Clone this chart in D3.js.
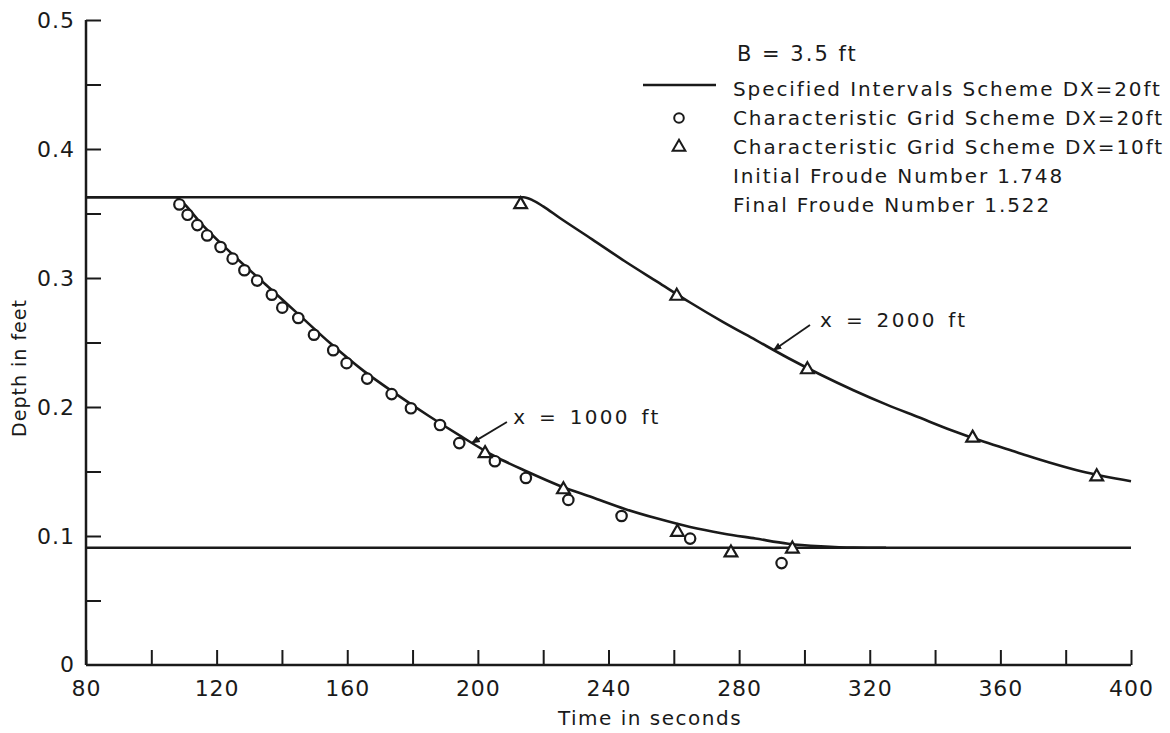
<!DOCTYPE html>
<html>
<head>
<meta charset="utf-8">
<script src="https://cdn.jsdelivr.net/npm/d3@7"></script>
<style>
  body { margin: 0; background: #fff; }
  text { font-family: "DejaVu Sans", sans-serif; fill: #1a1a1a; }
</style>
</head>
<body>
<svg id="chart" width="1170" height="733"></svg>
<script>
// tick values and labels
var xTickValues = [80, 100, 120, 140, 160, 180, 200, 220, 240, 260, 280, 300, 320, 340, 360, 380, 400];
var xLabelValues = [80, 120, 160, 200, 240, 280, 320, 360, 400];
var yTickValues = [0.05, 0.1, 0.15, 0.2, 0.25, 0.3, 0.35, 0.4, 0.45, 0.5];
var yLabelValues = [0, 0.1, 0.2, 0.3, 0.4, 0.5];

// specified intervals scheme DX=20ft, x = 1000 ft  [time s, depth ft]
var curve1000 = [
  [80, 0.3626], [107.5, 0.3626], [110, 0.3575], [115, 0.343], [125, 0.318], [135, 0.295],
  [145, 0.272], [155, 0.249], [165, 0.228], [175, 0.210], [185, 0.193], [195, 0.177],
  [205, 0.162], [215, 0.150], [225, 0.139], [235, 0.130], [245, 0.121], [255, 0.1135],
  [265, 0.107], [275, 0.102], [285, 0.098], [295, 0.094], [305, 0.092], [315, 0.091], [325, 0.0909]
];
// x = 2000 ft
var curve2000 = [
  [80, 0.3626], [214, 0.3626], [217, 0.360], [220, 0.3555], [225, 0.3467], [235, 0.330],
  [245, 0.313], [255, 0.297], [265, 0.281], [275, 0.266], [285, 0.252], [295, 0.238],
  [305, 0.225], [315, 0.213], [325, 0.202], [335, 0.192], [345, 0.182], [355, 0.173],
  [365, 0.165], [375, 0.157], [385, 0.150], [400, 0.1425]
];
// final depth
var finalDepth = [[80, 0.0909], [400, 0.0909]];

// characteristic grid scheme DX=20ft (circles)
var gridDx20 = [
  [108.6, 0.357], [111.1, 0.349], [114.1, 0.341], [117.1, 0.333], [121.2, 0.324], [124.9, 0.315],
  [128.5, 0.306], [132.4, 0.298], [136.9, 0.287], [140.1, 0.277], [145.0, 0.269], [149.8, 0.256],
  [155.7, 0.244], [159.8, 0.234], [166.1, 0.222], [173.6, 0.210], [179.5, 0.199], [188.4, 0.186],
  [194.3, 0.172], [205.2, 0.158], [214.7, 0.145], [227.7, 0.128], [244.0, 0.1155], [265.0, 0.098],
  [293.0, 0.079]
];
// characteristic grid scheme DX=10ft (triangles)
var gridDx10 = [
  [202.2, 0.164], [226.2, 0.136], [261.1, 0.103], [277.5, 0.087], [296.3, 0.090],
  [213.1, 0.357], [260.9, 0.286], [300.9, 0.229], [351.5, 0.176], [389.5, 0.146]
];

// curve labels: [leader on curve, leader tail, text position]
var curveLabels = [
  {text: "x = 1000 ft", on: [198.1, 0.172], tail: [208.9, 0.1884], at: [210.8, 0.1922]},
  {text: "x = 2000 ft", on: [290.5, 0.244], tail: [301.7, 0.2636], at: [304.8, 0.2674]}
];

var legendRows = [
  {type: "title", text: "B = 3.5 ft"},
  {type: "line", text: "Specified Intervals Scheme DX=20ft"},
  {type: "circle", text: "Characteristic Grid Scheme DX=20ft"},
  {type: "triangle", text: "Characteristic Grid Scheme DX=10ft"},
  {type: "none", text: "Initial Froude Number 1.748"},
  {type: "none", text: "Final Froude Number 1.522"}
];

var svg = d3.select("#chart");
var mLeft = 86, mRight = 1131, mTop = 20, mBottom = 665;

var x = d3.scaleLinear().domain([80, 400]).range([mLeft, mRight]);
var y = d3.scaleLinear().domain([0, 0.5]).range([mBottom, mTop]);

var ink = "#1a1a1a";

// arrow marker for leaders
svg.append("defs").append("marker")
  .attr("id", "arrow")
  .attr("viewBox", "0 0 10 10")
  .attr("refX", 9).attr("refY", 5)
  .attr("markerWidth", 9).attr("markerHeight", 9)
  .attr("markerUnits", "userSpaceOnUse")
  .attr("orient", "auto")
  .append("path").attr("d", "M0,1 L10,5 L0,9 Z").attr("fill", ink);

// axes, ticks pointing inward
var xAxis = d3.axisBottom(x).tickValues(xTickValues).tickSize(-15).tickPadding(10)
  .tickFormat(function(d) { return xLabelValues.indexOf(d) >= 0 ? d : ""; });
var gx = svg.append("g").attr("transform", `translate(0,${mBottom})`).call(xAxis);
gx.selectAll("text").attr("font-size", 22).attr("letter-spacing", 1).attr("dy", "0.95em");

var yAxis = d3.axisLeft(y).tickValues(yTickValues).tickSize(-15).tickPadding(11)
  .tickFormat(function(d) {
    return yLabelValues.some(function(v) { return Math.abs(v - d) < 1e-9; }) ? d3.format(".1f")(d) : "";
  });
var gy = svg.append("g").attr("transform", `translate(${mLeft},0)`).call(yAxis);
gy.selectAll("text").attr("font-size", 22).attr("letter-spacing", 1);
// zero label sits at the corner
svg.append("text").attr("x", mLeft - 12).attr("y", y(0)).attr("dy", "0.32em")
  .attr("text-anchor", "end").attr("font-size", 22).text("0");

[gx, gy].forEach(function(g) {
  g.select(".domain").attr("stroke", ink).attr("stroke-width", 2.5);
  g.selectAll(".tick line").attr("stroke", ink).attr("stroke-width", 2);
  g.selectAll("text").attr("fill", ink).attr("font-family", "DejaVu Sans, sans-serif");
});
gx.select(".domain").attr("d", `M${mLeft},0H${mRight}`);
gy.select(".domain").attr("d", `M0,${mBottom}V${mTop}`);

// axis titles
svg.append("text").attr("x", 650).attr("y", 725).attr("text-anchor", "middle")
  .attr("font-size", 20).attr("letter-spacing", 1.5).text("Time in seconds");
svg.append("text").attr("transform", "translate(26,368) rotate(-90)").attr("text-anchor", "middle")
  .attr("font-size", 19).attr("letter-spacing", 1).text("Depth in feet");

// curves
var line = d3.line().x(function(d) { return x(d[0]); }).y(function(d) { return y(d[1]); })
  .curve(d3.curveMonotoneX);
[finalDepth, curve1000, curve2000].forEach(function(c) {
  svg.append("path").datum(c).attr("d", line)
    .attr("fill", "none").attr("stroke", ink).attr("stroke-width", 2.6);
});

// markers
svg.selectAll("circle.dx20").data(gridDx20).enter().append("circle")
  .attr("class", "dx20")
  .attr("cx", function(d) { return x(d[0]); })
  .attr("cy", function(d) { return y(d[1]); })
  .attr("r", 5.2)
  .attr("fill", "#fff").attr("stroke", ink).attr("stroke-width", 2.2);

var tri = d3.symbol().type(d3.symbolTriangle).size(70);
svg.selectAll("path.dx10").data(gridDx10).enter().append("path")
  .attr("class", "dx10")
  .attr("d", tri)
  .attr("transform", function(d) { return `translate(${x(d[0])},${y(d[1])})`; })
  .attr("fill", "#fff").attr("stroke", ink).attr("stroke-width", 2.2);

// leader labels
curveLabels.forEach(function(l) {
  svg.append("line")
    .attr("x1", x(l.tail[0])).attr("y1", y(l.tail[1]))
    .attr("x2", x(l.on[0])).attr("y2", y(l.on[1]))
    .attr("stroke", ink).attr("stroke-width", 1.8)
    .attr("marker-end", "url(#arrow)");
  svg.append("text").attr("x", x(l.at[0])).attr("y", y(l.at[1])).attr("dy", "0.35em")
    .attr("font-size", 20).attr("letter-spacing", 2.3).attr("word-spacing", 3).text(l.text);
});

// legend
var legX = 733, legY = [54, 89, 118, 147, 176, 205];
var leg = svg.append("g");
legendRows.forEach(function(r, i) {
  var yy = legY[i];
  leg.append("text").attr("x", legX + (r.type === "title" ? 4 : 0)).attr("y", yy).attr("dy", "0.35em")
    .attr("font-size", r.type === "title" ? 21 : 20).attr("letter-spacing", r.type === "title" ? 2 : 1.9)
    .text(r.text);
  if (r.type === "line") {
    leg.append("line").attr("x1", 643).attr("x2", 716).attr("y1", yy - 4).attr("y2", yy - 4)
      .attr("stroke", ink).attr("stroke-width", 2.4);
  } else if (r.type === "circle") {
    leg.append("circle").attr("cx", 679).attr("cy", yy).attr("r", 4.8)
      .attr("fill", "#fff").attr("stroke", ink).attr("stroke-width", 2);
  } else if (r.type === "triangle") {
    leg.append("path").attr("d", tri).attr("transform", `translate(679,${yy})`)
      .attr("fill", "#fff").attr("stroke", ink).attr("stroke-width", 2);
  }
});
</script>
</body>
</html>
